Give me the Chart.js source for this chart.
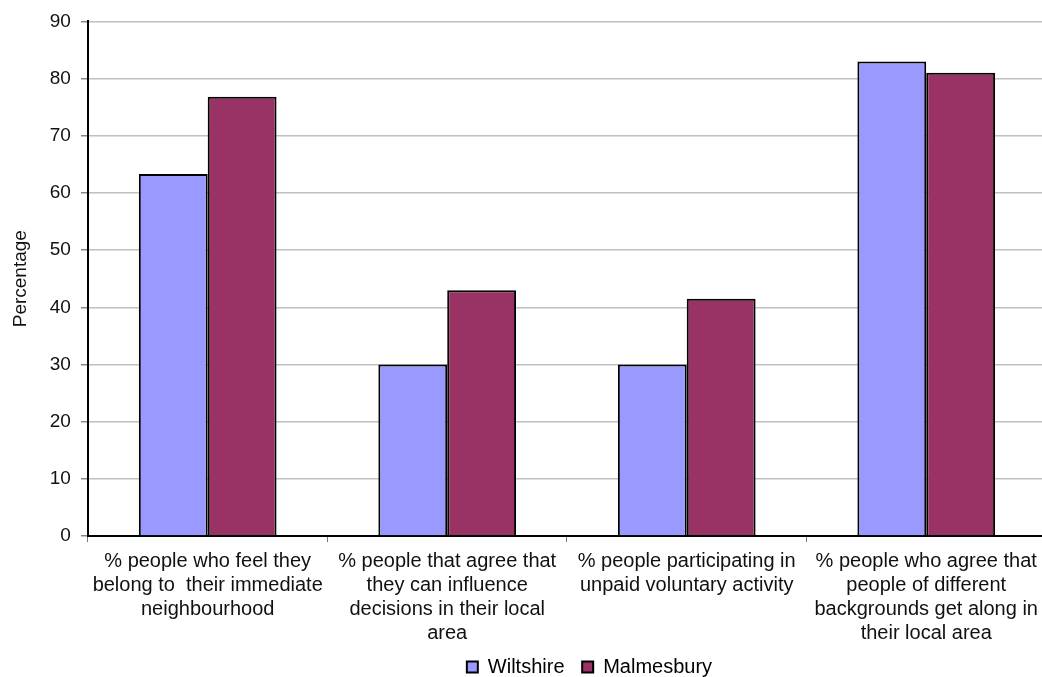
<!DOCTYPE html>
<html>
<head>
<meta charset="utf-8">
<title>Community cohesion - Wiltshire vs Malmesbury</title>
<script src="https://cdn.jsdelivr.net/npm/chart.js@4.4.0/dist/chart.umd.min.js"></script>
<style>
    html, body { margin: 0; padding: 0; background: #fff; overflow: hidden; }
    #wrap { width: 1046px; height: 677px; position: relative; }
</style>
</head>
<body>
<div id="wrap"><canvas id="chart"></canvas></div>
<script>
// ============================================
// DATA
// ============================================
const categories = [
    ['% people who feel they', 'belong to  their immediate', 'neighbourhood'],
    ['% people that agree that', 'they can influence', 'decisions in their local', 'area'],
    ['% people participating in', 'unpaid voluntary activity'],
    ['% people who agree that', 'people of different', 'backgrounds get along in', 'their local area']
];
const seriesNames = ['Wiltshire', 'Malmesbury'];
const wiltshire = [63.3, 30, 30, 83];
const malmesbury = [76.8, 43, 41.5, 81];
const yTicks = [0, 10, 20, 30, 40, 50, 60, 70, 80, 90];

const FONT = '"Liberation Sans", Arial, sans-serif';

// legend sits a bit right of the plot centre in the original
const legendShift = {
    id: 'legendShift',
    afterLayout(chart) {
        if (chart.legend) chart.legend.left += 45;
    }
};

// ============================================
// CHART
// ============================================
new Chart(document.getElementById('chart'), {
    type: 'bar',
    data: {
        labels: categories,
        datasets: [{
            label: seriesNames[0],
            data: wiltshire,
            backgroundColor: '#9999FF',
            borderColor: '#000000',
            borderWidth: 2,
            categoryPercentage: 0.575,
            barPercentage: 1
        }, {
            label: seriesNames[1],
            data: malmesbury,
            backgroundColor: '#993366',
            borderColor: '#000000',
            borderWidth: 2,
            categoryPercentage: 0.575,
            barPercentage: 1
        }]
    },
    plugins: [legendShift],
    options: {
        responsive: true,
        maintainAspectRatio: false,
        animation: false,
        layout: {
            padding: { top: 13, right: 0, left: 9, bottom: -10 }
        },
        plugins: {
            tooltip: { enabled: false },
            legend: {
                position: 'bottom',
                fullSize: false,
                labels: {
                    font: { family: FONT, size: 20 },
                    color: '#111',
                    boxWidth: 11,
                    boxHeight: 11,
                    padding: 1,
                    generateLabels: (chart) => chart.data.datasets.map((ds, i) => ({
                        text: ds.label + (i < chart.data.datasets.length - 1 ? '   ' : ''),
                        fillStyle: ds.backgroundColor,
                        strokeStyle: '#000',
                        lineWidth: 2,
                        datasetIndex: i
                    }))
                }
            }
        },
        scales: {
            x: {
                border: { color: '#000', width: 2 },
                grid: {
                    offset: true,
                    drawOnChartArea: false,
                    drawTicks: true,
                    tickLength: 6,
                    color: '#777'
                },
                afterFit: (axis) => { axis.height += 4; },
                ticks: {
                    autoSkip: false,
                    maxRotation: 0,
                    minRotation: 0,
                    padding: 7,
                    color: '#111',
                    font: { family: FONT, size: 20, lineHeight: 1.2 }
                }
            },
            y: {
                min: 0,
                max: 90,
                afterBuildTicks: (axis) => { axis.ticks = yTicks.map(v => ({ value: v })); },
                border: { color: '#000', width: 2 },
                grid: {
                    color: '#c0c0c0',
                    lineWidth: 1.5,
                    tickLength: 7,
                    tickColor: '#888'
                },
                ticks: {
                    padding: 10,
                    color: '#111',
                    font: { family: FONT, size: 19 }
                },
                title: {
                    display: true,
                    text: 'Percentage',
                    color: '#111',
                    padding: { top: 0, bottom: 8 },
                    font: { family: FONT, size: 19 }
                }
            }
        }
    }
});
</script>
</body>
</html>
